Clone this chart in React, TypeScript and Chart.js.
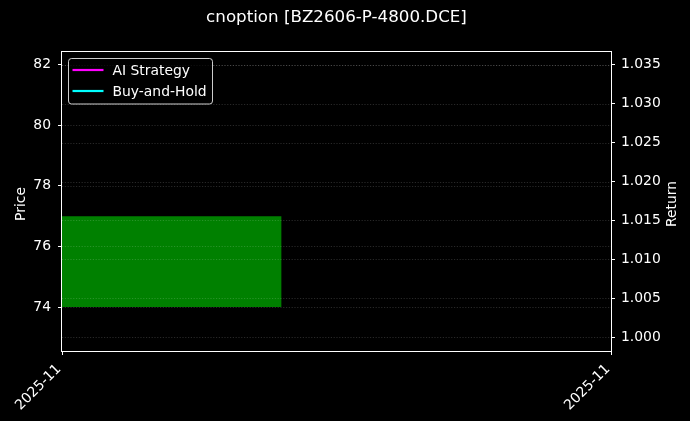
import React, { useEffect, useRef } from 'react';
import { Chart, registerables } from 'chart.js';

Chart.register(...registerables);

const TITLE = 'cnoption [BZ2606-P-4800.DCE]';
const PRICE_LABEL = 'Price';
const RETURN_LABEL = 'Return';

const xTickValues = [0, 1];
const xTickLabels = ['2025-11', '2025-11'];

// candle body: start / end on the x scale, open / close prices
const candleX = [0, 0.4];
const candleOpen = [74];
const candleClose = [77];

const aiStrategyX = [0];
const aiStrategy = [1.035];
const buyHoldX = [0];
const buyHold = [1.0];

const priceTicks = [74, 76, 78, 80, 82];
const returnTicks = [1.0, 1.005, 1.01, 1.015, 1.02, 1.025, 1.03, 1.035];
const priceRange = [72.55, 82.45];
const returnRange = [0.99825, 1.03675];

const seriesNames = ['AI Strategy', 'Buy-and-Hold'];
const seriesColors = ['#ff00ff', '#00ffff'];

const FONT = "'DejaVu Sans', sans-serif";
const W = 690;
const H = 421;

const overlayPlugin = {
  id: 'overlay',
  afterDatasetsDraw(chart: any) {
    const { ctx, chartArea } = chart;
    const { left, right, top, bottom } = chartArea;
    ctx.save();
    ctx.strokeStyle = 'rgba(255,255,255,0.2)';
    ctx.lineWidth = 0.8;
    ctx.setLineDash([1.2, 1.6]);
    const yP = chart.scales.yPrice;
    const yR = chart.scales.yRet;
    priceTicks.forEach((v) => {
      const y = Math.round(yP.getPixelForValue(v)) + 0.5;
      ctx.beginPath();
      ctx.moveTo(left, y);
      ctx.lineTo(right, y);
      ctx.stroke();
    });
    returnTicks.forEach((v) => {
      const y = Math.round(yR.getPixelForValue(v)) + 0.5;
      ctx.beginPath();
      ctx.moveTo(left, y);
      ctx.lineTo(right, y);
      ctx.stroke();
    });
    ctx.setLineDash([]);
    ctx.strokeStyle = '#ffffff';
    ctx.lineWidth = 1;
    const l = Math.round(left) - 0.5;
    const t = Math.round(top) + 0.5;
    const r = Math.round(right) + 0.5;
    const b = Math.round(bottom) + 0.5;
    ctx.strokeRect(l, t, r - l, b - t);
    ctx.restore();
  },
  afterDraw(chart: any) {
    const { ctx, chartArea } = chart;
    const { left, right, top, bottom } = chartArea;
    ctx.save();
    ctx.fillStyle = '#ffffff';
    // title
    ctx.font = `16.7px ${FONT}`;
    ctx.textAlign = 'center';
    ctx.textBaseline = 'middle';
    ctx.fillText(TITLE, (left + right) / 2, 18);
    // axis titles
    const midY = (top + bottom) / 2 + 3;
    ctx.font = `13.9px ${FONT}`;
    ctx.save();
    ctx.translate(21, midY);
    ctx.rotate(-Math.PI / 2);
    ctx.fillText(PRICE_LABEL, 0, 0);
    ctx.restore();
    ctx.save();
    ctx.translate(672, midY);
    ctx.rotate(-Math.PI / 2);
    ctx.fillText(RETURN_LABEL, 0, 0);
    ctx.restore();
    // legend
    const lx = left + 6.5;
    const ly = top + 7.5;
    const lw = 144;
    const lh = 45.5;
    ctx.beginPath();
    ctx.roundRect(lx, ly, lw, lh, 3);
    ctx.fillStyle = 'rgba(0,0,0,0.8)';
    ctx.fill();
    ctx.strokeStyle = 'rgba(255,255,255,0.8)';
    ctx.lineWidth = 1;
    ctx.stroke();
    ctx.textAlign = 'left';
    ctx.textBaseline = 'middle';
    seriesNames.forEach((name, i) => {
      const y = ly + 11.5 + i * 21;
      ctx.strokeStyle = seriesColors[i];
      ctx.lineWidth = 2.2;
      ctx.beginPath();
      ctx.moveTo(lx + 4, y);
      ctx.lineTo(lx + 35, y);
      ctx.stroke();
      ctx.fillStyle = '#ffffff';
      ctx.fillText(name, lx + 44, y + 1);
    });
    ctx.restore();
  },
};

export default function App() {
  const canvasRef = useRef<HTMLCanvasElement | null>(null);

  useEffect(() => {
    const canvas = canvasRef.current;
    if (!canvas) return;
    const tickFont = { family: FONT, size: 13.9 };
    const chart = new Chart(canvas, {
      type: 'line',
      data: {
        datasets: [
          {
            label: 'body',
            data: candleX.map((x) => ({ x, y: candleClose[0] })),
            xAxisID: 'x',
            yAxisID: 'yPrice',
            backgroundColor: '#008000',
            borderColor: '#008000',
            borderWidth: 0,
            pointRadius: 0,
            fill: { value: candleOpen[0] },
          },
          {
            label: seriesNames[0],
            data: aiStrategyX.map((x, i) => ({ x, y: aiStrategy[i] })),
            xAxisID: 'x',
            yAxisID: 'yRet',
            borderColor: seriesColors[0],
            borderWidth: 2,
            pointRadius: 0,
            fill: false,
          },
          {
            label: seriesNames[1],
            data: buyHoldX.map((x, i) => ({ x, y: buyHold[i] })),
            xAxisID: 'x',
            yAxisID: 'yRet',
            borderColor: seriesColors[1],
            borderWidth: 2,
            pointRadius: 0,
            fill: false,
          },
        ],
      },
      options: {
        responsive: false,
        animation: false,
        layout: { padding: { top: 51, left: 0, right: 0, bottom: 0 } },
        plugins: {
          legend: { display: false },
          title: { display: false },
          tooltip: { enabled: false },
        },
        scales: {
          x: {
            type: 'linear',
            position: 'bottom',
            min: xTickValues[0],
            max: xTickValues[xTickValues.length - 1],
            afterBuildTicks: (scale: any) => {
              scale.ticks = xTickValues.map((v) => ({ value: v }));
            },
            afterFit: (scale: any) => {
              scale.height = 70;
            },
            ticks: {
              color: '#ffffff',
              font: tickFont,
              minRotation: 45,
              maxRotation: 45,
              padding: 6,
              labelOffset: -3,
              autoSkip: false,
              callback: (_v: any, i: number) => xTickLabels[i],
            },
            grid: {
              drawOnChartArea: false,
              color: 'transparent',
              tickColor: '#ffffff',
              tickLength: 4,
              tickWidth: 1,
            },
            border: { display: false },
          },
          yPrice: {
            type: 'linear',
            position: 'left',
            min: priceRange[0],
            max: priceRange[1],
            afterBuildTicks: (scale: any) => {
              scale.ticks = priceTicks.map((v) => ({ value: v }));
            },
            afterFit: (scale: any) => {
              scale.width = 62;
            },
            ticks: {
              color: '#ffffff',
              font: tickFont,
              padding: 7,
              callback: (v: any) => String(v),
            },
            grid: {
              drawOnChartArea: false,
              color: 'transparent',
              tickColor: '#ffffff',
              tickLength: 4,
              tickWidth: 1,
            },
            border: { display: false },
          },
          yRet: {
            type: 'linear',
            position: 'right',
            min: returnRange[0],
            max: returnRange[1],
            afterBuildTicks: (scale: any) => {
              scale.ticks = returnTicks.map((v) => ({ value: v }));
            },
            afterFit: (scale: any) => {
              scale.width = 79;
            },
            ticks: {
              color: '#ffffff',
              font: tickFont,
              padding: 6,
              callback: (v: any) => Number(v).toFixed(3),
            },
            grid: {
              drawOnChartArea: false,
              color: 'transparent',
              tickColor: '#ffffff',
              tickLength: 4,
              tickWidth: 1,
            },
            border: { display: false },
          },
        },
      },
      plugins: [overlayPlugin],
    });
    return () => chart.destroy();
  }, []);

  return (
    <div
      style={{
        position: 'fixed',
        left: 0,
        top: 0,
        width: W,
        height: H,
        background: '#000000',
      }}
    >
      <canvas ref={canvasRef} width={W} height={H} style={{ display: 'block', width: W, height: H }} />
    </div>
  );
}
